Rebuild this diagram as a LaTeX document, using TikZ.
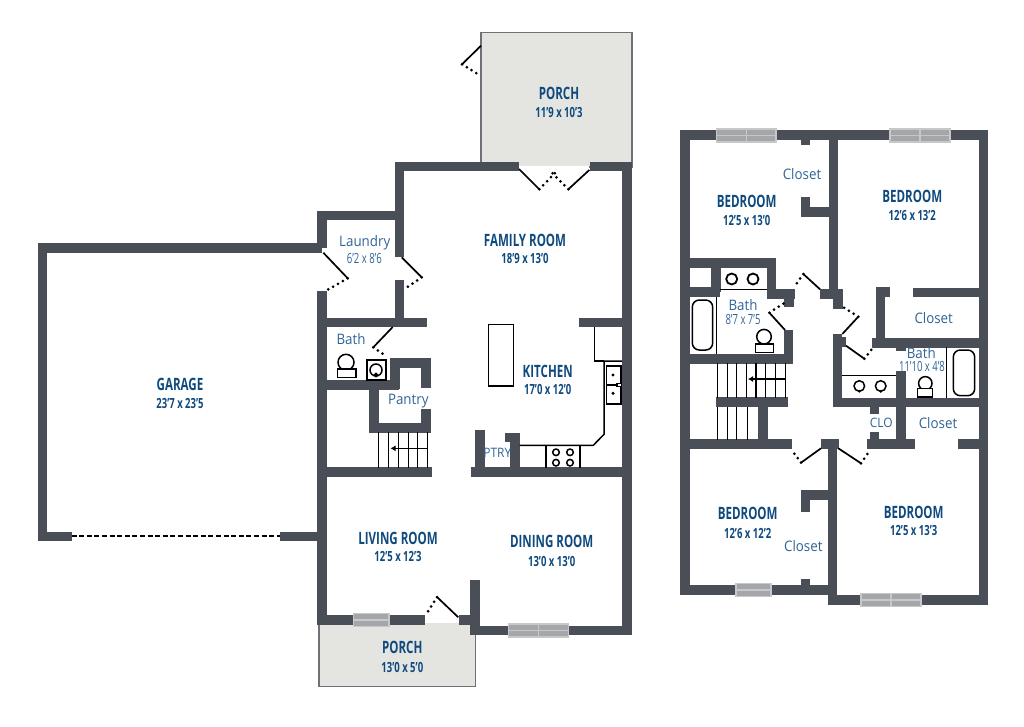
\documentclass[tikz,border=0pt]{standalone}
\usepackage{fontspec}
\usetikzlibrary{arrows.meta}
\setmainfont{Open Sans}
\newfontfamily\condfont[FakeStretch=0.68]{Open Sans}
\newfontfamily\labfont[FakeStretch=0.92]{Open Sans}
\definecolor{wallgray}{HTML}{4A4F57}
\definecolor{porchgray}{HTML}{E4E4E0}
\definecolor{edgegray}{HTML}{6E7175}
\definecolor{roomblue}{HTML}{0F4A7E}
\definecolor{labelblue}{HTML}{2F6496}
\definecolor{glassgray}{HTML}{A4A6A9}
\definecolor{framegray}{HTML}{C6C8CA}
\begin{document}
\begin{tikzpicture}[x=1pt,y=-1pt,
  wall/.style={draw=wallgray,line width=9.6pt,miter limit=10},
  fixture/.style={draw=black,line width=1.5pt},
  swing/.style={draw=black,line width=1.7pt},
  swingdots/.style={draw=black,line width=3pt,line cap=round,dash pattern=on 0pt off 5.6pt},
  porchfloor/.style={fill=porchgray,draw=edgegray,line width=1.5pt},
  pane/.style={fill=glassgray,draw=framegray,line width=1.5pt},
  panemid/.style={draw=framegray,line width=1.3pt},
  room/.style={font=\condfont\bfseries\fontsize{17}{18}\selectfont,text=roomblue,inner sep=0pt},
  dims/.style={font=\condfont\bfseries\fontsize{14}{15}\selectfont,text=roomblue,inner sep=0pt},
  smalldims/.style={font=\condfont\fontsize{14}{15}\selectfont,text=labelblue,inner sep=0pt},
  lab/.style={font=\labfont\fontsize{14.5}{16}\selectfont,text=labelblue,inner sep=0pt},
  caplab/.style={font=\labfont\fontsize{13}{14}\selectfont,text=labelblue,inner sep=0pt}]
\useasboundingbox (0,0) rectangle (1024,726);

% porches
\draw [porchfloor] (481,32.5) rectangle (632,167);
\fill [porchgray] (319,623) rectangle (475.5,686.5);
\draw [draw=edgegray,line width=1.5pt] (319,623) -- (319,686.5) -- (475.5,686.5) -- (475.5,623);
\fill [white] (519,166) rectangle (589,172);

% ground floor walls
\draw [wall] (37.5,248) -- (322,248);
\draw [wall] (42.5,248) -- (42.5,536.3) -- (71.5,536.3);
\draw [wall] (279.5,536.3) -- (322,536.3);
\draw [wall] (322,248) -- (322,215.5) -- (404,215.5);
\draw [wall] (322,290.5) -- (322,619.7) -- (425,619.7);
\draw [wall] (399.5,162) -- (399.5,256.5);
\draw [wall] (399.5,280) -- (399.5,322.3);
\draw [wall] (317,322.3) -- (427.3,322.3);
\draw [wall] (578.5,322.3) -- (622,322.3);
\draw [wall] (395,166.3) -- (519,166.3);
\draw [wall] (589.5,166.3) -- (626.8,166.3) -- (626.8,630.3) -- (470,630.3);
\draw [wall] (474.7,579.5) -- (474.7,635);
\draw [wall] (458.5,619.7) -- (475,619.7);
\draw [wall] (322,384.7) -- (399.3,384.7);
\draw [wall] (394.7,389) -- (394.7,363) -- (425.8,363) -- (425.8,388.3);
\draw [wall] (425.8,409.3) -- (425.8,428) -- (373.7,428) -- (373.7,384.7);
\draw [wall] (322,472) -- (431.7,472);
\draw [wall] (470.7,472) -- (622,472);
\draw [wall] (479.7,430) -- (479.7,472);
\draw [wall] (505.3,437.3) -- (515,437.3) -- (515,472);

% ground floor fixtures
\draw [fixture] (488.3,324.7) rectangle (513.7,386);
\draw [fixture] (519.7,445.3) -- (593.3,445.3) -- (604,434.3) -- (604,361) -- (622,361);
\draw [fixture] (594.3,327) -- (594.3,361) -- (604,361);
\draw [fixture] (606.3,366) rectangle (621,404);
\draw [fixture] (606.3,385) -- (621,385);
\fill (613,375) circle (1.7);
\fill (613,393.3) circle (1.7);
\draw [fixture,fill=white] (617,383.3) rectangle (621.5,386.7);
\draw [fixture] (546,446) -- (546,467.5);
\draw [fixture] (580,446) -- (580,467.5);
\draw [fixture] (556,452.3) circle (3.3);
\draw [fixture] (570,452.3) circle (3.3);
\draw [fixture] (556,462.7) circle (3.3);
\draw [fixture] (570,462.7) circle (3.3);
\draw [fixture] (346,362.3) circle (8);
\draw [fixture,fill=white] (337.3,369) rectangle (356,377.7);
\draw [draw=black,line width=1.8pt] (366.7,360) rectangle (386,380);
\draw [fixture] (376,370) circle (6);
\draw [fixture,fill=white] (376,375) circle (1.5);

% ground floor stairs
\draw [fixture] (378.3,432) -- (378.3,467.5);
\draw [fixture] (388.3,432) -- (388.3,467.5);
\draw [fixture] (398.3,432) -- (398.3,467.5);
\draw [fixture] (408.3,432) -- (408.3,467.5);
\draw [fixture] (417.7,432) -- (417.7,467.5);
\draw [fixture] (427.3,432) -- (427.3,467.5);
\draw [fixture,-{Latex[length=5pt,width=6pt]}] (427.3,448.3) -- (390.5,448.3);

% ground floor doors
\draw [swing] (323.3,252.7) -- (347.7,278.3);
\draw [swingdots] (347.7,278.3) -- (327.3,290);
\draw [swing] (401.7,257.3) -- (421.7,277.3);
\draw [swingdots] (421.7,277.3) -- (404,289.3);
\draw [swing] (392.7,327) -- (373.3,347.3);
\draw [swingdots] (373.3,347.3) -- (386,356);
\draw [swing] (481,45.7) -- (462,64.3);
\draw [swingdots] (462,64.3) -- (481,76);
\draw [swing] (519,169) -- (539.3,189.3);
\draw [swingdots] (539.3,189.3) -- (557.3,170.7);
\draw [swing] (589.3,170) -- (568.3,189.3);
\draw [swingdots] (568.3,189.3) -- (550,170.7);
\draw [swing] (458.3,617.3) -- (437,597);
\draw [swingdots] (437,597) -- (425.7,615);
\draw [draw=black,line width=2.2pt,dash pattern=on 5pt off 2.6pt] (71.5,536.3) -- (279.5,536.3);

% ground floor windows
\draw [pane] (353.7,613.5) rectangle (389,626.5);
\draw [panemid] (353.7,620) -- (389,620);
\draw [pane] (508.3,624) rectangle (538.3,637);
\draw [pane] (538.3,624) rectangle (568.3,637);
\draw [panemid] (508.3,630.5) -- (568.3,630.5);

% upper floor walls
\draw [wall] (684.8,590.2) -- (684.8,135.2) -- (983.3,135.2) -- (983.3,600.2) -- (828,600.2);
\draw [wall] (680,590.2) -- (832,590.2);
\draw [wall] (833.5,135) -- (833.5,293.8);
\draw [wall] (805.5,140) -- (805.5,145.3);
\draw [wall] (805.5,196.7) -- (805.5,211.7) -- (829,211.7);
\draw [wall] (684.8,262.7) -- (771.3,262.7) -- (771.3,293.8) -- (795,293.8);
\draw [wall] (788.7,298) -- (788.7,307.3);
\draw [wall] (684.8,292) -- (720.3,292);
\draw [wall] (715.7,258) -- (715.7,292);
\draw [wall] (684.8,358.7) -- (788.3,358.7);
\draw [wall] (788.3,330) -- (788.3,363.5);
\draw [wall] (715.7,402.2) -- (788.3,402.2);
\draw [wall] (763,402.2) -- (763,440);
\draw [wall] (684.8,444) -- (791.7,444);
\draw [wall] (820,293.8) -- (842.7,293.8);
\draw [wall] (837.7,293.8) -- (837.7,309);
\draw [wall] (837.3,334) -- (837.3,407);
\draw [wall] (842,342) -- (846,342);
\draw [wall] (880.3,342.7) -- (880.3,292) -- (890,292);
\draw [wall] (913.3,292.3) -- (983.3,292.3);
\draw [wall] (871.7,342.7) -- (983.3,342.7);
\draw [wall] (900.7,347) -- (900.7,350.7);
\draw [wall] (900.7,371) -- (900.7,446.7);
\draw [wall] (832.7,402.3) -- (983.3,402.3);
\draw [wall] (874.3,407) -- (874.3,414.3);
\draw [wall] (874.3,431.7) -- (874.3,444);
\draw [wall] (867,444) -- (914.7,444);
\draw [wall] (958.3,444) -- (983.3,444);
\draw [wall] (820.7,444) -- (838.7,444);
\draw [wall] (832.5,439.5) -- (832.5,605);
\draw [wall] (805.5,511.7) -- (805.5,494.7) -- (830,494.7);
\draw [wall] (805.5,579) -- (805.5,586);

% upper floor fixtures
\draw [fixture] (720,289.3) -- (767,289.3);
\draw [fixture,line width=1.8pt] (731.7,279) circle (5.5);
\draw [fixture,line width=1.8pt] (753,279) circle (5.5);
\draw [fixture] (716.7,297) -- (716.7,354);
\draw [fixture,rounded corners=7pt] (692.3,300) rectangle (712.7,350);
\draw [fixture] (764,336.7) circle (7.3);
\draw [fixture,fill=white] (755.7,344) rectangle (773.7,352.7);
\draw [fixture] (842,375.7) -- (896,375.7);
\draw [fixture] (859.3,386) circle (5.3);
\draw [fixture] (880.7,386) circle (5.3);
\fill (859.3,391.3) circle (1.5);
\fill (880.7,391.3) circle (1.5);
\draw [fixture] (946.7,347) -- (946.7,398);
\draw [fixture,rounded corners=7pt] (953.3,350) rectangle (974.7,395.7);
\draw [fixture] (925.3,383.3) circle (6.7);
\draw [fixture,fill=white] (917.3,388.3) rectangle (932.7,397);

% upper floor stairs
\draw [fixture] (717.3,363) -- (717.3,397.7);
\draw [fixture] (727.3,363) -- (727.3,397.7);
\draw [fixture] (736.7,363) -- (736.7,397.7);
\draw [fixture] (746.7,363) -- (746.7,397.7);
\draw [fixture] (756,363) -- (756,397.7);
\draw [fixture] (765.7,363) -- (765.7,397.7);
\draw [fixture] (775.3,363) -- (775.3,397.7);
\draw [fixture] (785.3,363) -- (785.3,397.7);
\draw [fixture] (717.3,407) -- (717.3,439.5);
\draw [fixture] (727.3,407) -- (727.3,439.5);
\draw [fixture] (736.7,407) -- (736.7,439.5);
\draw [fixture] (747.7,407) -- (747.7,439.5);
\draw [fixture,-{Latex[length=5pt,width=6pt]}] (785.3,379) -- (748,379);

% upper floor doors
\draw [swing] (769.3,312.7) -- (785,330);
\draw [swingdots] (769.3,312.7) -- (784,303.3);
\draw [swing] (820,289.3) -- (803.3,274);
\draw [swingdots] (803.3,274) -- (795,286);
\draw [swing] (858.3,316.7) -- (842.3,334);
\draw [swingdots] (858.3,316.7) -- (843.3,307.3);
\draw [swing] (846,345.7) -- (864.3,358.7);
\draw [swingdots] (864.3,358.7) -- (873.3,347.3);
\draw [swing] (821,448.3) -- (801,462.7);
\draw [swingdots] (801,462.7) -- (791.7,450);
\draw [swing] (838.3,448.3) -- (861,463.3);
\draw [swingdots] (861,463.3) -- (870,450);

% upper floor windows
\draw [pane] (716.7,129) rectangle (746.3,142);
\draw [pane] (746.3,129) rectangle (776,142);
\draw [panemid] (716.7,135.5) -- (776,135.5);
\draw [pane] (890,129) rectangle (920,142);
\draw [pane] (920,129) rectangle (950,142);
\draw [panemid] (890,135.5) -- (950,135.5);
\draw [pane] (736,583.5) rectangle (771,596.5);
\draw [panemid] (736,590) -- (771,590);
\draw [pane] (861,593.5) rectangle (891,606.5);
\draw [pane] (891,593.5) rectangle (921,606.5);
\draw [panemid] (861,600) -- (921,600);

% ground floor labels
\node [room] (porchtop) at (559,93.3) {PORCH};
\node [dims] (porchtopdim) at (559,112.3) {11’9 x 10’3};
\node [room] (family) at (525,240) {FAMILY ROOM};
\node [dims] (familydim) at (525,258) {18’9 x 13’0};
\node [room] (kitchen) at (547.7,371) {KITCHEN};
\node [dims] (kitchendim) at (547.7,389.3) {17’0 x 12’0};
\node [lab] (laundry) at (364.7,242.3) {Laundry};
\node [smalldims] (laundrydim) at (364.3,258) {6’2 x 8’6};
\node [lab] (bathdown) at (351,339) {Bath};
\node [lab] (pantry) at (408.3,401.3) {Pantry};
\node [caplab] (ptry) at (497.3,453.3) {PTRY};
\node [room] (living) at (398,538.3) {LIVING ROOM};
\node [dims] (livingdim) at (398,556.7) {12’5 x 12’3};
\node [room] (dining) at (551.7,541.7) {DINING ROOM};
\node [dims] (diningdim) at (551.7,561.7) {13’0 x 13’0};
\node [room] (porchlow) at (402.3,647.3) {PORCH};
\node [dims] (porchlowdim) at (402.3,667.3) {13’0 x 5’0};
\node [room] (garage) at (180,384) {GARAGE};
\node [dims] (garagedim) at (180,403.3) {23’7 x 23’5};

% upper floor labels
\node [room] (bedone) at (746.7,201.7) {BEDROOM};
\node [dims] (bedonedim) at (746.7,220.7) {12’5 x 13’0};
\node [lab] (closetone) at (802,173.7) {Closet};
\node [room] (bedtwo) at (912.3,196) {BEDROOM};
\node [dims] (bedtwodim) at (912.3,215) {12’6 x 13’2};
\node [lab] (bathone) at (743,304.7) {Bath};
\node [smalldims] (bathonedim) at (743,319.7) {8’7 x 7’5};
\node [lab] (closettwo) at (933.7,318.3) {Closet};
\node [lab] (bathtwo) at (921.3,353.3) {Bath};
\node [smalldims] (bathtwodim) at (922,366) {11’10 x 4’8};
\node [caplab] (clo) at (881.3,422.7) {CLO};
\node [lab] (closetthree) at (938,422.7) {Closet};
\node [room] (bedthree) at (747.7,513.3) {BEDROOM};
\node [dims] (bedthreedim) at (747.7,533.3) {12’6 x 12’2};
\node [lab] (closetfour) at (803.3,545.7) {Closet};
\node [room] (bedfour) at (913.7,512.3) {BEDROOM};
\node [dims] (bedfourdim) at (913.7,530.7) {12’5 x 13’3};
\end{tikzpicture}
\end{document}
